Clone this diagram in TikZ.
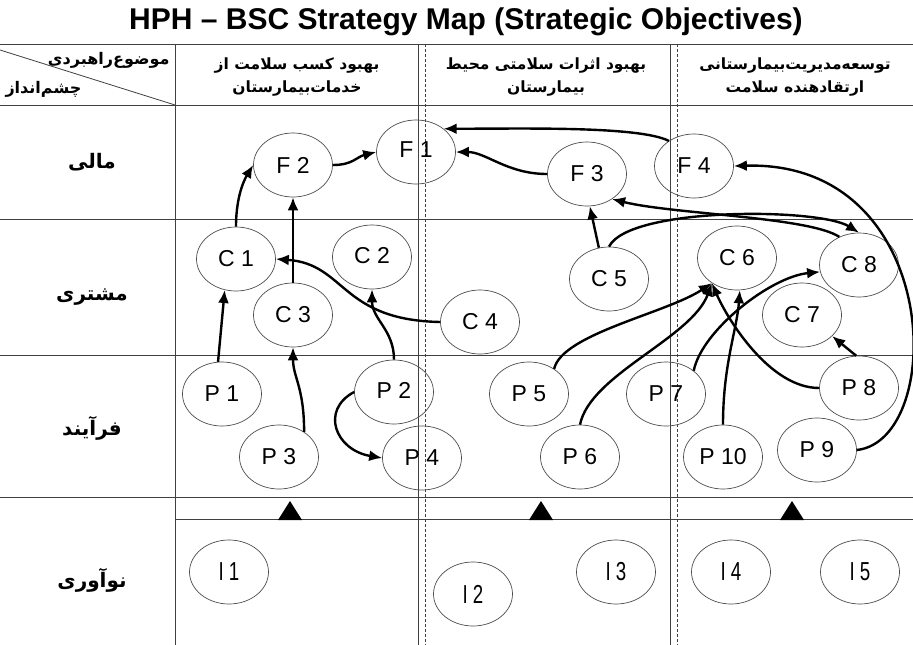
\documentclass[tikz,border=0pt]{standalone}
\usepackage{fontspec}
\setmainfont{Liberation Sans}
\newfontfamily\fa[Script=Arabic]{DejaVu Sans}
\newfontfamily\narrowfont[FakeStretch=0.72]{Liberation Sans}
\TeXXeTstate=1
\usetikzlibrary{shapes.geometric,arrows.meta}
\tikzset{
 obj/.style={ellipse,draw=black!70,line width=0.7pt,minimum width=79pt,minimum height=64pt,inner sep=0pt,font=\fontsize{23}{23}\selectfont},
 inno/.style={obj,font=\narrowfont\fontsize{26}{26}\selectfont},
 link/.style={line width=2.4pt,-{Latex[length=13pt,width=11pt]}},
 gridline/.style={draw=black!75,line width=1pt},
 sepline/.style={draw=black!75,line width=0.7pt,dash pattern=on 3pt off 2pt},
 rowlab/.style={font=\fa\bfseries\fontsize{20}{24}\selectfont},
 colhead/.style={font=\fa\bfseries\fontsize{15.5}{23}\selectfont,align=center},
 cornerlab/.style={font=\fa\bfseries\fontsize{16}{16}\selectfont},
 tri/.style={fill=black}
}
\begin{document}
\begin{tikzpicture}[x=1pt,y=-1pt]
\useasboundingbox[fill=white] (0,0) rectangle (913,645);
% title
\node[font=\bfseries\fontsize{30}{30}\selectfont,anchor=base] (title) at (466,29) {HPH – BSC Strategy Map (Strategic Objectives)};
% grid
\draw[gridline] (0,44) -- (913,44);
\draw[gridline] (0,105) -- (913,105);
\draw[gridline] (0,219) -- (913,219);
\draw[gridline] (0,355) -- (913,355);
\draw[gridline] (0,497) -- (913,497);
\draw[gridline] (175,519) -- (913,519);
\draw[gridline] (175,44) -- (175,645);
\draw[gridline] (418,44) -- (418,645);
\draw[gridline] (670,44) -- (670,645);
\draw[sepline] (425,44) -- (425,645);
\draw[sepline] (677,44) -- (677,645);
\draw[draw=black!75,line width=0.8pt] (0,50) -- (175,105);
% header texts
\node[cornerlab,anchor=east] (hsub) at (173,60) {\beginR موضوع^^^^200cراهبردی\endR};
\node[cornerlab,anchor=west] (hview) at (2,89) {\beginR چشم^^^^200cانداز\endR};
\node[colhead] (h1) at (297,77) {\beginR بهبود کسب سلامت از\endR\\\beginR خدمات^^^^200cبیمارستان\endR};
\node[colhead] (h2) at (546,77) {\beginR بهبود اثرات سلامتی محیط\endR\\\beginR بیمارستان\endR};
\node[colhead] (h3) at (795,77) {\beginR توسعه^^^^200cمدیریت^^^^200cبیمارستانی\endR\\\beginR ارتقادهنده سلامت\endR};
% row labels
\node[rowlab] (r1) at (92,162) {\beginR مالی\endR};
\node[rowlab] (r2) at (92,297) {\beginR مشتری\endR};
\node[rowlab] (r3) at (92,428) {\beginR فرآیند\endR};
\node[rowlab] (r4) at (92,580) {\beginR نوآوری\endR};
% objectives
\node[obj] (F1) at (416,152) {\raisebox{5pt}{F 1}};
\node[obj] (F2) at (293,165) {F 2};
\node[obj] (F3) at (587,174) {F 3};
\node[obj] (F4) at (694,166) {F 4};
\node[obj] (C1) at (236,259) {C 1};
\node[obj] (C2) at (372,257) {\raisebox{4pt}{C 2}};
\node[obj] (C3) at (293,315) {C 3};
\node[obj] (C4) at (480,322) {C 4};
\node[obj] (C5) at (609,279) {C 5};
\node[obj] (C6) at (737,258) {C 6};
\node[obj] (C7) at (802,315) {C 7};
\node[obj] (C8) at (859,265) {C 8};
\node[obj] (P1) at (222,394) {P 1};
\node[obj] (P2) at (394,392) {\raisebox{4pt}{P 2}};
\node[obj] (P3) at (279,457) {P 3};
\node[obj] (P4) at (422,458) {P 4};
\node[obj] (P5) at (529,394) {P 5};
\node[obj] (P6) at (580,457) {P 6};
\node[obj] (P7) at (666,394) {P 7};
\node[obj] (P8) at (859,388) {P 8};
\node[obj] (P9) at (817,450) {P 9};
\node[obj] (P10) at (723,457) {P 10};
\node[inno] (I1) at (229,572) {I 1};
\node[inno] (I2) at (473,594) {I 2};
\node[inno] (I3) at (616,572) {I 3};
\node[inno] (I4) at (731,572) {I 4};
\node[inno] (I5) at (860,572) {I 5};
% triangles
\fill[tri] (290,501) -- (278,520) -- (302,520) -- cycle;
\fill[tri] (541,501) -- (529,520) -- (553,520) -- cycle;
\fill[tri] (792,501) -- (780,520) -- (804,520) -- cycle;
% links
\draw[link] (F2.east) .. controls +(20,0) and +(-20,5) .. (F1.west);
\draw[link] (C1.north) .. controls +(0,-35) and +(-6,10) .. (F2.west);
\draw[link] (C3.north) -- (F2.south);
\draw[link] (C4.west) .. controls +(-100,-2) and +(70,5) .. (C1.east);
\draw[link] (P1.97) -- (C1.250);
\draw[link] (P3.45) .. controls +(0,-45) and +(0,30) .. (C3.south);
\draw[link] (P2.north) .. controls +(0,-30) and +(0,30) .. (C2.south);
\draw[link] (P2.west) .. controls +(-34,18) and +(-47,-8) .. (P4.west);
\draw[link] (F3.west) .. controls +(-40,0) and +(30,0) .. (F1.east);
\draw[link] (F4.135) .. controls +(-30,-15) and +(80,0) .. (F1.40);
\draw[link] (C5.108) -- (F3.275);
\draw[link] (C8.125) .. controls +(-30,-20) and +(60,15) .. (F3.315);
\draw[link] (C5.north) .. controls +(20,-40) and +(-40,-25) .. (C8.north);
\draw[link] (P9.east) .. controls +(90,-10) and +(210,-6) .. (F4.east);
\draw[link] (P5.45) .. controls +(8,-35) and +(-45,30) .. (C6.225);
\draw[link] (P6.north) .. controls +(10,-50) and +(-20,55) .. (C6.225);
\draw[link] (P8.west) .. controls +(-50,0) and +(15,35) .. (C6.225);
\draw[link] (P10.north) .. controls +(0,-60) and +(-3,40) .. (C6.275);
\draw[link] (P7.40) .. controls +(8,-40) and +(-50,5) .. (C8.190);
\draw[link] (P8.95) -- (C7.325);
\end{tikzpicture}
\end{document}
